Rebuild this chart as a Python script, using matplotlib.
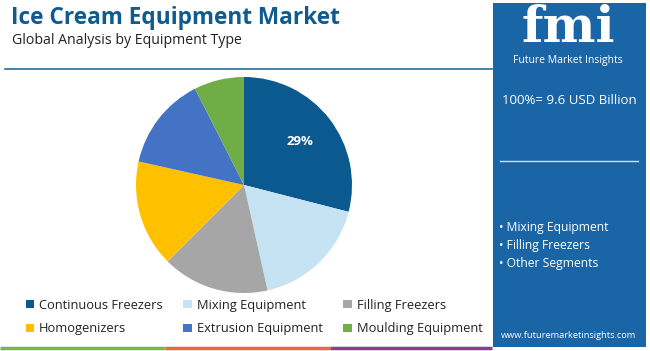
import matplotlib
matplotlib.use("Agg")
import matplotlib.pyplot as plt
from matplotlib.patches import Rectangle
from matplotlib.lines import Line2D

categories = ["Continuous Freezers", "Mixing Equipment", "Filling Freezers",
              "Homogenizers", "Extrusion Equipment", "Moulding Equipment"]
shares = [29, 17.5, 16, 16, 14, 7.5]
colors = ["#0b5a8f", "#c5e3f3", "#a6a6a6", "#ffc000", "#4472c4", "#70ad47"]
title = "Ice Cream Equipment Market"
subtitle = "Global Analysis by Equipment Type"
total_text = "100%= 9.6 USD Billion"
side_items = ["Mixing Equipment", "Filling Freezers", "Other Segments"]

W, H = 650, 351
FONT = "Open Sans"
fig = plt.figure(figsize=(W / 100, H / 100), dpi=100)
fig.patch.set_facecolor("white")

def fx(x):
    return x / W

def fy(y):
    return 1 - y / H

# Title / subtitle
fig.text(fx(11), fy(18), title, fontsize=16.3, fontweight="bold", color="#0f5a8f",
         family=FONT, va="center", ha="left")
fig.text(fx(12), fy(40), subtitle, fontsize=10.2, color="#222222",
         family=FONT, va="center", ha="left")
fig.add_artist(Line2D([fx(5), fx(492)], [fy(69), fy(69)], color="#1f6fa8", lw=1.2))

# Pie
cx, cy, r = 244, 185, 108
ax = fig.add_axes([fx(cx - r), fy(cy + r), 2 * r / W, 2 * r / H])
wedges, texts, autotexts = ax.pie(
    shares, colors=colors, startangle=90, counterclock=False, radius=1,
    autopct=lambda p: f"{p:.0f}%" if p > 20 else "", pctdistance=0.66,
    textprops=dict(color="white", fontsize=9.5, fontweight="bold", family=FONT),
    wedgeprops=dict(linewidth=0))
ax.set_xlim(-1, 1)
ax.set_ylim(-1, 1)
ax.set_aspect("equal")
ax.axis("off")

# Legend (row-wise order)
order = [0, 3, 1, 4, 2, 5]
leg = fig.legend([wedges[i] for i in order], [categories[i] for i in order],
                 ncol=3, loc="upper left", bbox_to_anchor=(fx(14), fy(287)),
                 frameon=False, handlelength=0.65, handleheight=0.65,
                 handletextpad=0.4, columnspacing=1.6, labelspacing=0.85,
                 prop=dict(family=FONT, size=9.25))
for t in leg.get_texts():
    t.set_color("#222222")

# Bottom colored lines
for x0, x1, c in [(0, 165, "#7ab648"), (165, 330, "#e8693b"), (330, 492, "#8e3a96")]:
    fig.add_artist(Line2D([fx(x0), fx(x1)], [fy(348), fy(348)], color=c, lw=2.5,
                          solid_capstyle="butt"))

# Right panel
panel_c = "#1a65a6"
fig.add_artist(Rectangle((fx(493), fy(347)), fx(646) - fx(493), fy(3) - fy(347),
                         transform=fig.transFigure, facecolor=panel_c, edgecolor="none"))
fig.text(fx(568), fy(29), "fmi", fontsize=36, fontweight="bold", color="white",
         family="DejaVu Serif", va="center", ha="center")
for yy in range(12, 52, 3):
    fig.add_artist(Line2D([fx(510), fx(630)], [fy(yy), fy(yy)], color=panel_c, lw=0.8))
fig.text(fx(568), fy(61), "Future Market Insights", fontsize=7.5, color="white",
         family=FONT, va="center", ha="center")
fig.text(fx(569), fy(101), total_text, fontsize=9.5, color="white",
         family=FONT, va="center", ha="center")
fig.add_artist(Line2D([fx(500), fx(638)], [fy(161), fy(161)], color="#d0e0ee", lw=1))
for i, s in enumerate(side_items):
    fig.text(fx(499), fy(227 + 18 * i), "\u2022 " + s, fontsize=8.7, color="white",
             family=FONT, va="center", ha="left")
fig.text(fx(569), fy(335), "www.futuremarketinsights.com", fontsize=6.7, color="white",
         family=FONT, va="center", ha="center")

fig.savefig("out.png", dpi=100, facecolor="white")
